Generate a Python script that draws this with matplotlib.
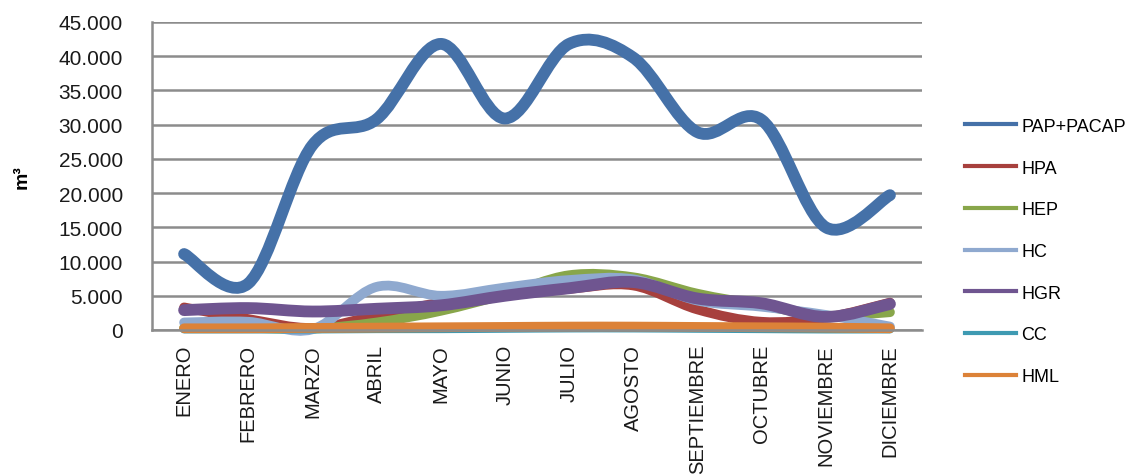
import matplotlib
matplotlib.use("Agg")
import matplotlib.pyplot as plt
from matplotlib.path import Path
from matplotlib.patches import PathPatch
from matplotlib.lines import Line2D
from matplotlib.ticker import FuncFormatter
import numpy as np

meses = ["ENERO", "FEBRERO", "MARZO", "ABRIL", "MAYO", "JUNIO", "JULIO",
         "AGOSTO", "SEPTIEMBRE", "OCTUBRE", "NOVIEMBRE", "DICIEMBRE"]

pap_pacap = [11100, 6800, 27000, 30800, 41800, 30900, 41800, 39800, 28900, 30700, 15000, 19700]
hpa = [3300, 1600, 300, 2100, 4000, 5000, 6000, 6500, 3000, 1200, 1800, 4000]
hep = [300, 300, 200, 1100, 2800, 5200, 8000, 7700, 5300, 3600, 2100, 2600]
hc = [1100, 1200, 100, 6300, 5000, 6200, 7300, 7400, 4300, 3400, 2200, 500]
hgr = [2900, 3200, 2700, 3100, 3600, 5000, 6100, 7000, 4600, 3900, 1900, 3800]
cc = [150, 150, 150, 200, 200, 250, 300, 300, 250, 200, 150, 150]
hml = [250, 250, 300, 350, 400, 450, 500, 500, 450, 400, 350, 250]

series = [
    ("PAP+PACAP", pap_pacap, "#4571a8", 8.5),
    ("HPA", hpa, "#a7403d", 7),
    ("HEP", hep, "#88a64a", 7),
    ("HC", hc, "#8fa9cf", 7),
    ("HGR", hgr, "#6f5590", 8.5),
    ("CC", cc, "#3e9ab2", 6.5),
    ("HML", hml, "#dc8238", 7),
]


def smooth_path(xs, ys):
    # bezier like excel "smoothed line"
    pts = np.column_stack([xs, ys]).astype(float)
    n = len(pts)
    verts = [pts[0]]
    codes = [Path.MOVETO]
    for i in range(n - 1):
        p0 = pts[max(i - 1, 0)]
        p1 = pts[i]
        p2 = pts[i + 1]
        p3 = pts[min(i + 2, n - 1)]
        c1 = p1 + (p2 - p0) / 6.0
        c2 = p2 - (p3 - p1) / 6.0
        verts += [c1, c2, p2]
        codes += [Path.CURVE4] * 3
    return Path(verts, codes)


fig = plt.figure(figsize=(11.42, 4.77), dpi=100)
ax = fig.add_axes([0.1331, 0.3061, 0.6743, 0.6457])

x = np.arange(len(meses))
handles = []
for name, vals, col, lw in series:
    patch = PathPatch(smooth_path(x, vals), fill=False, edgecolor=col, lw=lw,
                      capstyle="round", joinstyle="round", clip_on=False)
    ax.add_patch(patch)
    handles.append(Line2D([], [], color=col, lw=3, label=name))

ax.set_xlim(-0.5, len(meses) - 0.5)
ax.set_ylim(0, 45000)
ax.set_yticks(np.arange(0, 45001, 5000))
ax.yaxis.set_major_formatter(FuncFormatter(lambda v, p: f"{int(v):,}".replace(",", ".")))
ax.set_xticks(x)
ax.set_xticklabels(meses, rotation=90, fontsize=14.5, family="Liberation Sans")
for lab in ax.get_yticklabels():
    lab.set_family("Liberation Sans")
    lab.set_fontsize(15)
ax.tick_params(length=0, colors="#1a1a1a")
ax.tick_params(axis="y", pad=21)
ax.tick_params(axis="x", pad=10)

ax.grid(axis="y", color="#8c8c8c", lw=1.8)
ax.set_axisbelow(True)
for s in ["top", "right"]:
    ax.spines[s].set_visible(False)
for s in ["left", "bottom"]:
    ax.spines[s].set_color("#8c8c8c")
    ax.spines[s].set_linewidth(1.8)

ax.set_ylabel("m³", fontsize=14, fontweight="bold", family="Liberation Sans", labelpad=20)

leg = fig.legend(handles=handles, loc="upper left", bbox_to_anchor=(0.8305, 0.785),
                 frameon=False, handlelength=2.85, handletextpad=0.28, labelspacing=1.37,
                 prop={"family": "Liberation Sans", "size": 13})

fig.savefig("out.png", dpi=100)
